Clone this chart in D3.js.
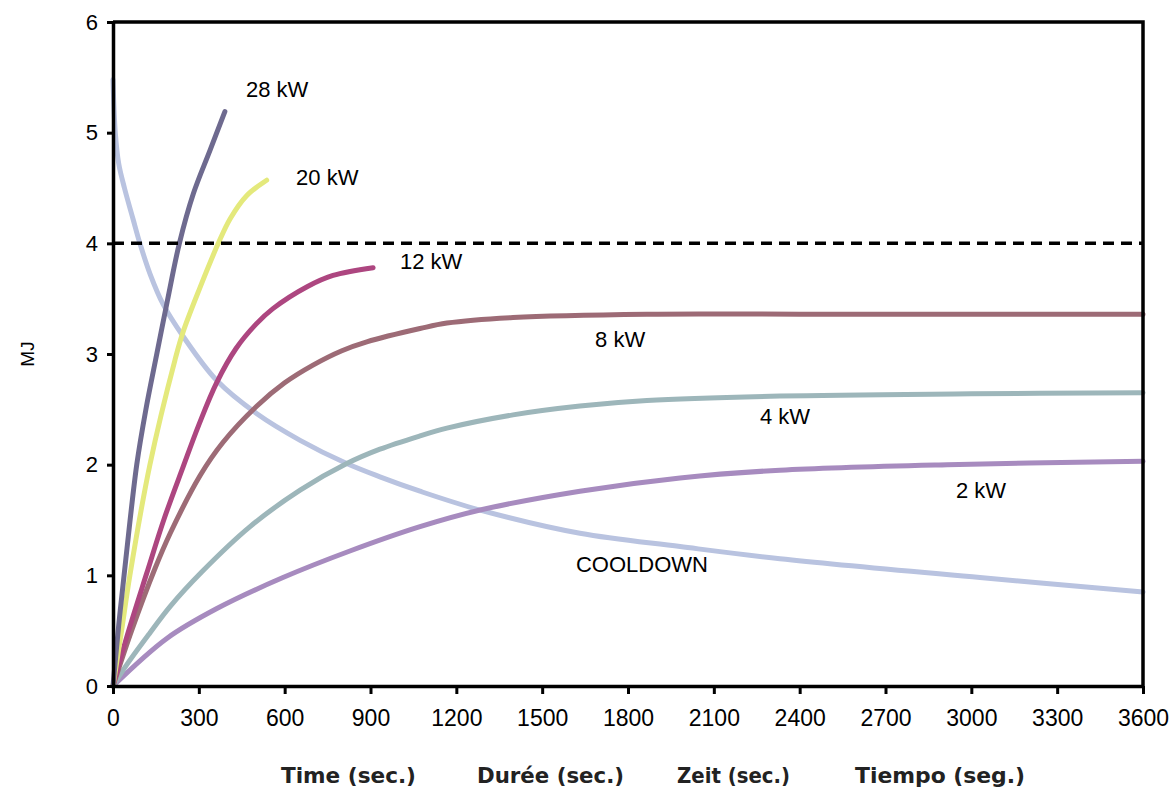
<!DOCTYPE html>
<html>
<head>
<meta charset="utf-8">
<script src="https://cdn.jsdelivr.net/npm/d3@7"></script>
<style>
  body { margin: 0; background: #fff; }
  svg { display: block; font-family: "Liberation Sans", Arial, sans-serif; }
</style>
</head>
<body>
<div class="chart"></div>
<script>
// values: [seconds, MJ]
var kw28 = [[0,0],[20,0.55],[45,1.15],[83,2],[115,2.5],[153,3.0],[190,3.48],[232,4],[281,4.45],[339,4.84],[391,5.19]];
var kw20 = [[0,0],[30,0.5],[59,1.0],[129,2],[217,2.95],[245,3.2],[304,3.6],[368,4.0],[409,4.22],[467,4.43],[537,4.57]];
var kw12 = [[0,0],[50,0.46],[118,1.02],[180,1.52],[245,1.98],[300,2.36],[362,2.74],[430,3.05],[500,3.27],[559,3.41],[680,3.61],[769,3.71],[909,3.78]];
var kw8 = [[0,0],[65,0.5],[145,1.05],[200,1.38],[304,1.9],[384,2.2],[503,2.53],[600,2.74],[699,2.9],[800,3.03],[887,3.11],[1073,3.23],[1167,3.28],[1398,3.33],[1866,3.36],[2400,3.36],[3000,3.36],[3600,3.36]];
var kw4 = [[0,0],[50,0.2],[129,0.48],[200,0.72],[310,1.03],[479,1.44],[654,1.77],[817,2.01],[933,2.14],[1073,2.26],[1167,2.33],[1398,2.45],[1632,2.53],[1866,2.58],[2331,2.62],[3000,2.64],[3600,2.65]];
var kw2 = [[0,0],[188,0.43],[363,0.7],[594,0.98],[828,1.22],[1073,1.44],[1283,1.59],[1632,1.76],[1982,1.88],[2331,1.95],[2915,2.0],[3600,2.03]];
var cooldown = [[0,5.48],[8,5.0],[20,4.72],[40,4.5],[70,4.22],[94,4.0],[130,3.72],[175,3.45],[245,3.16],[363,2.76],[503,2.46],[654,2.22],[817,2.01],[933,1.89],[1073,1.76],[1283,1.59],[1632,1.38],[1982,1.26],[2331,1.15],[3030,0.98],[3600,0.85]];

var seriesNames = ["COOLDOWN", "2 kW", "4 kW", "8 kW", "12 kW", "20 kW", "28 kW"];
var seriesData = [cooldown, kw2, kw4, kw8, kw12, kw20, kw28];
var seriesColors = ["#b9c3e0", "#a78bbf", "#9db6ba", "#9d6b76", "#ad4680", "#e4e97c", "#6e6a8f"];
// where each label sits, in chart units [seconds, MJ]
var labelAt = [[1618,1.10],[2946,1.77],[2261,2.44],[1685,3.13],[1003,3.84],[640,4.6],[465,5.39]];

var xTicks = [0,300,600,900,1200,1500,1800,2100,2400,2700,3000,3300,3600];
var yTicks = [0,1,2,3,4,5,6];
var limitMJ = 4;
var axisTitles = ["Time  (sec.)", "Durée  (sec.)", "Zeit  (sec.)", "Tiempo  (seg.)"];

var width = 1173, height = 790;
var margin = {top: 22, right: 30, bottom: 104, left: 113};

var svg = d3.select(".chart").append("svg")
    .attr("width", width)
    .attr("height", height);

var x = d3.scaleLinear().domain([0, 3600]).range([margin.left, width - margin.right]);
var y = d3.scaleLinear().domain([0, 6]).range([height - margin.bottom, margin.top]);

/*
    Curves
*/
var line = d3.line()
    .x(function (d) { return x(d[0]); })
    .y(function (d) { return y(d[1]); })
    .curve(d3.curveCatmullRom.alpha(0.5));

svg.selectAll("path.curve").data(seriesData).enter().append("path")
    .attr("class", "curve")
    .attr("d", line)
    .attr("fill", "none")
    .attr("stroke", function (d, i) { return seriesColors[i]; })
    .attr("stroke-width", 5)
    .attr("stroke-linecap", "round")
    .attr("stroke-linejoin", "round");

/*
    4 MJ limit
*/
svg.append("line")
    .attr("x1", x(0)).attr("x2", x(3600))
    .attr("y1", y(limitMJ)).attr("y2", y(limitMJ))
    .attr("stroke", "black")
    .attr("stroke-width", 3.5)
    .attr("stroke-dasharray", "11,7");

/*
    Axes + frame
*/
var xAxis = svg.append("g")
    .attr("transform", "translate(0," + y(0) + ")")
    .call(d3.axisBottom(x).tickValues(xTicks).tickFormat(d3.format("d"))
        .tickSize(8).tickSizeOuter(0).tickPadding(16));
var yAxis = svg.append("g")
    .attr("transform", "translate(" + x(0) + ",0)")
    .call(d3.axisLeft(y).tickValues(yTicks).tickFormat(d3.format("d"))
        .tickSize(6).tickSizeOuter(0).tickPadding(9));

[xAxis, yAxis].forEach(function (g) {
    g.attr("font-family", "'Liberation Sans', Arial, sans-serif");
    g.select(".domain").attr("stroke", "black").attr("stroke-width", 3.5);
    g.selectAll(".tick line").attr("stroke", "black").attr("stroke-width", 3);
    g.selectAll(".tick text").attr("fill", "black");
});
xAxis.selectAll(".tick text").attr("font-size", 23);
yAxis.selectAll(".tick text").attr("font-size", 22);

svg.append("path")
    .attr("d", "M" + x(0) + "," + y(6) + "H" + x(3600) + "V" + y(0))
    .attr("fill", "none")
    .attr("stroke", "black")
    .attr("stroke-width", 3.5);

/*
    Labels
*/
svg.selectAll("text.series").data(seriesNames).enter().append("text")
    .attr("class", "series")
    .attr("x", function (d, i) { return x(labelAt[i][0]); })
    .attr("y", function (d, i) { return y(labelAt[i][1]); })
    .attr("dy", ".35em")
    .attr("font-size", 22)
    .attr("fill", "black")
    .text(function (d) { return d; });

svg.append("text")
    .attr("transform", "translate(34," + y(3) + ") rotate(-90)")
    .attr("text-anchor", "middle")
    .attr("font-size", 19)
    .text("MJ");

var titleX = [281, 477, 677, 855];
var titleW = [135, 147, 113, 170];
svg.selectAll("text.title").data(axisTitles).enter().append("text")
    .attr("class", "title")
    .attr("x", function (d, i) { return titleX[i]; })
    .attr("y", 783)
    .attr("font-family", "'Liberation Sans Narrow', 'DejaVu Sans Condensed', Arial, sans-serif")
    .attr("font-weight", "bold")
    .attr("font-size", 22)
    .attr("fill", "#222")
    .attr("textLength", function (d, i) { return titleW[i]; })
    .attr("lengthAdjust", "spacingAndGlyphs")
    .text(function (d) { return d; });
</script>
</body>
</html>
